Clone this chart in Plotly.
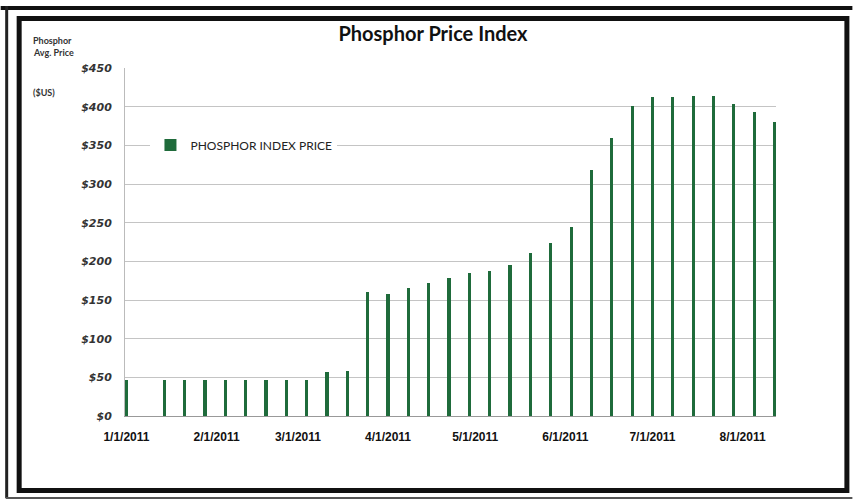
import plotly.graph_objects as go
import pandas as pd

dates = ["2011-01-01", "2011-01-14", "2011-01-21", "2011-01-28", "2011-02-04", "2011-02-11",
         "2011-02-18", "2011-02-25", "2011-03-04", "2011-03-11", "2011-03-18", "2011-03-25",
         "2011-04-01", "2011-04-08", "2011-04-15", "2011-04-22", "2011-04-29", "2011-05-06",
         "2011-05-13", "2011-05-20", "2011-05-27", "2011-06-03", "2011-06-10", "2011-06-17",
         "2011-06-24", "2011-07-01", "2011-07-08", "2011-07-15", "2011-07-22", "2011-07-29",
         "2011-08-05", "2011-08-12"]
prices = [46, 46, 46, 46, 46, 46, 46, 46, 46, 57, 58, 160,
          158, 165, 172, 179, 185, 187, 195, 211, 224, 245, 318, 360,
          401, 413, 413, 414, 414, 403, 393, 380]
tick_dates = ["2011-01-01", "2011-02-01", "2011-03-01", "2011-04-01",
              "2011-05-01", "2011-06-01", "2011-07-01", "2011-08-01"]
tick_labels = ["1/1/2011", "2/1/2011", "3/1/2011", "4/1/2011",
               "5/1/2011", "6/1/2011", "7/1/2011", "8/1/2011"]
series_name = "PHOSPHOR INDEX PRICE"

W, H = 853, 500
L, R, T, B = 124.5, 76.5, 68, 84
PW, PH = W - L - R, H - T - B

def px(x):
    return (x - L) / PW

def py(y):
    return (H - B - y) / PH

fig = go.Figure()
fig.add_trace(go.Bar(
    x=pd.to_datetime(dates), y=prices, name=series_name,
    width=86400000 * 1.1,
    marker=dict(color="#1f6b3b", line=dict(width=0)),
    showlegend=True,
))

shapes = [
    # outer frame
    dict(type="line", xref="paper", yref="paper", x0=px(0), x1=px(853), y0=py(8), y1=py(8),
         line=dict(color="#111", width=4)),
    dict(type="line", xref="paper", yref="paper", x0=px(6), x1=px(6), y0=py(6), y1=py(498),
         line=dict(color="#222", width=3)),
    dict(type="line", xref="paper", yref="paper", x0=px(5), x1=px(853), y0=py(498), y1=py(498),
         line=dict(color="#555", width=2)),
    # inner frame
    dict(type="rect", xref="paper", yref="paper", x0=px(18.5), x1=px(847.5), y0=py(18.5), y1=py(490.5),
         line=dict(color="#111", width=5)),
]

lab_font = dict(family="Lato", size=9, color="#333", weight="bold")
annotations = [
    dict(text="Phosphor", x=px(30), y=py(41), xref="paper", yref="paper", xanchor="left",
         yanchor="middle", showarrow=False, font=lab_font),
    dict(text="Avg. Price", x=px(30), y=py(53), xref="paper", yref="paper", xanchor="left",
         yanchor="middle", showarrow=False, font=lab_font),
    dict(text="($US)", x=px(30), y=py(92), xref="paper", yref="paper", xanchor="left",
         yanchor="middle", showarrow=False, font=lab_font),
]

fig.update_layout(
    width=W, height=H,
    margin=dict(l=L, r=R, t=T, b=B, autoexpand=False),
    paper_bgcolor="white", plot_bgcolor="white",
    title=dict(text="<b>Phosphor Price Index</b>", x=433 / W, xref="container", y=1 - 34 / H,
               yref="container", xanchor="center", yanchor="middle",
               font=dict(family="Lato", size=20, color="#111")),
    legend=dict(x=px(150), y=py(145), xanchor="left", yanchor="middle", bgcolor="white",
                font=dict(family="Lato", size=12, color="#222"), itemwidth=30,
                borderwidth=0),
    xaxis=dict(
        type="date",
        range=["2010-12-31 12:00", "2011-08-12 12:00"],
        tickvals=pd.to_datetime(tick_dates), ticktext=tick_labels,
        showgrid=False, showline=True, linecolor="#999", linewidth=1,
        ticks="", ticklabelstandoff=10,
        tickfont=dict(family="Liberation Sans", size=12, color="#111", weight="bold"),
    ),
    yaxis=dict(
        range=[0, 450], dtick=50, tickprefix="$", tickformat="d",
        showgrid=True, gridcolor="#c4c4c4", gridwidth=1,
        showline=True, linecolor="#bbb", linewidth=1, zeroline=False,
        ticks="", ticklabelstandoff=10,
        tickfont=dict(family="DejaVu Sans", size=11, color="#333", weight="bold", style="italic"),
    ),
    shapes=shapes,
    annotations=annotations,
    bargap=0,
)

fig.write_html("out.html", config={"displayModeBar": False},
               post_script="document.body.style.margin='0px';")
